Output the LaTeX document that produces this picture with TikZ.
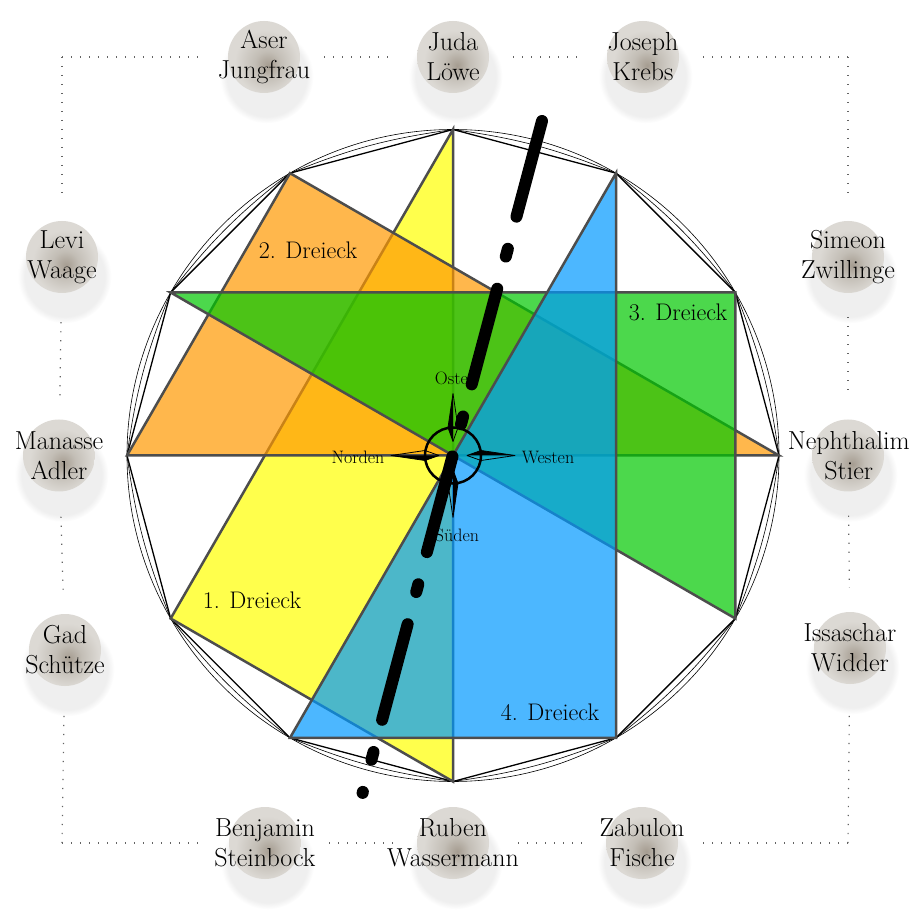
\documentclass[tikz,border=0pt]{standalone}
\usepackage{tikz}
\usetikzlibrary{calc, shadows}
\definecolor{zoYellow}{RGB}{255, 255, 0}
\definecolor{zoOrange}{RGB}{255, 153, 0}
\definecolor{zoGreen}{RGB}{0, 200, 0}
\definecolor{zoBlue}{RGB}{0, 153, 255}
\definecolor{zoEdge}{RGB}{77, 77, 77}
\definecolor{zoDots}{RGB}{100, 100, 100}
\definecolor{pearlDark}{RGB}{165, 156, 144}
\definecolor{pearlMid}{RGB}{195, 190, 182}
\definecolor{pearlLight}{RGB}{220, 217, 212}
\definecolor{pearlEdge}{RGB}{200, 196, 190}
\pgfdeclareradialshading{pearlshade}{\pgfpoint{3bp}{-6bp}}{color(0bp)=(pearlDark); color(9bp)=(pearlMid); color(22bp)=(pearlLight); color(42bp)=(pearlLight); color(50bp)=(pearlEdge)}
\tikzset{
    base/.style={
        font=\fontsize{24}{30}\selectfont,
        align=center,
        inner sep=0pt
    },
    pearl/.style={
        circle,
        minimum size=72pt,
        inner sep=0pt,
        shading=pearlshade,
        circular drop shadow={shadow xshift=2pt, shadow yshift=-15pt, shadow scale=1.3, opacity=0.13}
    },
    tribe/.style={
        base,
        font=\fontsize{26}{30}\selectfont
    },
    rim/.style={
        draw=zoDots,
        line width=1.2pt,
        dash pattern=on 1.2pt off 7.8pt
    },
    triangle/.style={
        draw=zoEdge,
        line width=2.5pt,
        fill opacity=0.7
    },
    wind/.style={
        font=\fontsize{18}{20}\selectfont,
        inner sep=0pt
    },
    meridian/.style={
        line width=12pt,
        line cap=round,
        dash pattern=on 99pt off 33.3pt on 8pt off 33.3pt
    }
}

\begin{document}
\begin{tikzpicture}[x=1pt, y=1pt]
  \useasboundingbox (-453,-467.5) rectangle (458,455.5);

  % Dodecagon vertices
  \foreach \k in {0,...,11}
    \coordinate (v\k) at ({90-30*\k}:326);

  % Circle and dodecagon
  \draw[line width=0.6pt] (0,0) circle (326);
  \draw[line width=0.6pt] (v0) to[bend left=7] (v1) to[bend left=7] (v2) to[bend left=7] (v3)
    to[bend left=7] (v4) to[bend left=7] (v5) to[bend left=7] (v6) to[bend left=7] (v7)
    to[bend left=7] (v8) to[bend left=7] (v9) to[bend left=7] (v10) to[bend left=7] (v11)
    to[bend left=7] (v0);
  \draw[line width=1.3pt] (v0) -- (v1) -- (v2) -- (v3) -- (v4) -- (v5) -- (v6) -- (v7)
    -- (v8) -- (v9) -- (v10) -- (v11) -- cycle;

  % Triangles
  \filldraw[triangle, fill=zoYellow] (v0) -- (v6) -- (v8) -- cycle;
  \filldraw[triangle, fill=zoOrange] (v11) -- (v9) -- (v3) -- cycle;
  \filldraw[triangle, fill=zoGreen] (v10) -- (v2) -- (v4) -- cycle;
  \filldraw[triangle, fill=zoBlue] (v1) -- (v5) -- (v7) -- cycle;

  \node[base] (t1) at (-201,-144.5) {1. Dreieck};
  \node[base] (t2) at (-145,205.5) {2. Dreieck};
  \node[base] (t3) at (225,143.5) {3. Dreieck};
  \node[base] (t4) at (97,-256.5) {4. Dreieck};

  % Compass rose
  \coordinate (rose) at (0,0);
  \draw[line width=2.5pt] (rose) circle (28);
  \foreach \a in {0,90,180,270} {
    \fill ($(rose)+(\a:14)$) -- ($(rose)+(\a:62)$) -- ($(rose)+(\a:28)+(\a+90:5)$) -- cycle;
    \draw[line width=0.8pt, line join=round] ($(rose)+(\a:14)$) -- ($(rose)+(\a:28)+(\a+90:5)$)
      -- ($(rose)+(\a:62)$) -- ($(rose)+(\a:28)+(\a-90:5)$) -- cycle;
  }
  \node[wind] (osten) at (3,77.5) {Osten};
  \node[wind] (westen) at (95,-1.5) {Westen};
  \node[wind] (norden) at (-95,-1.5) {Norden};
  \node[wind] (sueden) at (4,-79.5) {Süden};

  % Axis
  \coordinate (axisTop) at (89,334.5);
  \coordinate (axisBot) at (-90.4,-337.4);
  \draw[meridian] (axisTop) -- (axisBot);

  % Pearls
  \node[pearl] (aser) at (-189,398.5) {};
  \node[pearl] (juda) at (0,398.5) {};
  \node[pearl] (joseph) at (190,398.5) {};
  \node[pearl] (simeon) at (395,198.5) {};
  \node[pearl] (nephthalim) at (395,0) {};
  \node[pearl] (issaschar) at (397,-192.5) {};
  \node[pearl] (zabulon) at (189,-387.5) {};
  \node[pearl] (ruben) at (0,-387.5) {};
  \node[pearl] (benjamin) at (-188,-387.5) {};
  \node[pearl] (gad) at (-388,-194.5) {};
  \node[pearl] (manasse) at (-394,0) {};
  \node[pearl] (levi) at (-391,198.5) {};

  \node[tribe] (aser-t) at (aser) {Aser\\Jungfrau};
  \node[tribe] (juda-t) at (juda) {Juda\\Löwe};
  \node[tribe] (joseph-t) at (joseph) {Joseph\\Krebs};
  \node[tribe] (simeon-t) at (simeon) {Simeon\\Zwillinge};
  \node[tribe, anchor=east] (nephthalim-t) at ([xshift=62pt]nephthalim) {Nephthalim\\Stier};
  \node[tribe] (issaschar-t) at (issaschar) {Issaschar\\Widder};
  \node[tribe] (zabulon-t) at (zabulon) {Zabulon\\Fische};
  \node[tribe] (ruben-t) at (ruben) {Ruben\\Wassermann};
  \node[tribe] (benjamin-t) at (benjamin) {Benjamin\\Steinbock};
  \node[tribe] (gad-t) at (gad) {Gad\\Schütze};
  \node[tribe] (manasse-t) at (manasse) {Manasse\\Adler};
  \node[tribe] (levi-t) at (levi) {Levi\\Waage};

  % Dotted frame
  \coordinate (c1) at (-391,398.5);
  \coordinate (c2) at (395,398.5);
  \coordinate (c3) at (395,-387.5);
  \coordinate (c4) at (-391,-387.5);
  \foreach \a/\b in {aser/juda, juda/joseph, simeon/nephthalim, nephthalim/issaschar,
                     zabulon/ruben, ruben/benjamin, gad/manasse, manasse/levi}
    \draw[rim, shorten <=24pt, shorten >=24pt] (\a) -- (\b);
  \foreach \c/\b in {c1/aser, c1/levi, c2/joseph, c2/simeon, c3/issaschar, c3/zabulon, c4/benjamin, c4/gad}
    \draw[rim, shorten >=24pt] (\c) -- (\b);
\end{tikzpicture}
\end{document}
